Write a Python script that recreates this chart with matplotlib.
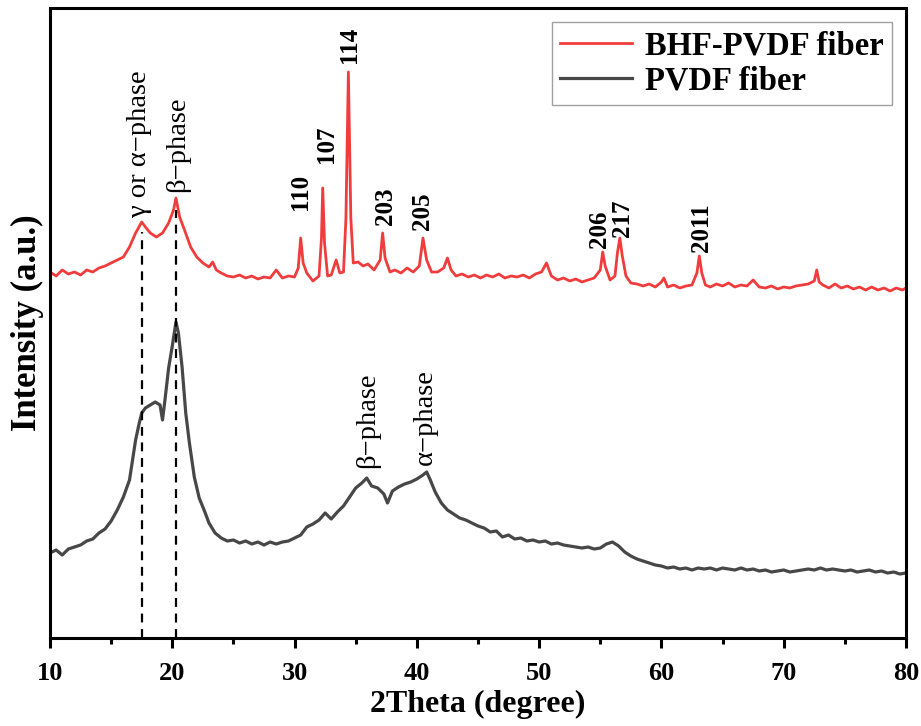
import matplotlib
matplotlib.use('Agg')
import matplotlib.pyplot as plt

plt.rcParams['font.family'] = ['Liberation Serif', 'DejaVu Serif']

# XRD pattern of BHF-PVDF fiber (red), intensity in a.u., offset upward
tt_bhf = [10, 10.5, 11, 11.5, 12, 12.5, 13, 13.5, 14, 14.5, 15, 15.5, 16, 16.5, 17, 17.5,
          17.8, 18.2, 18.7, 19.2, 19.7, 20.1, 20.3, 20.6, 21, 21.5, 22, 22.5, 23, 23.3, 23.6,
          24, 24.5, 25, 25.5, 26, 26.5, 27, 27.5, 28, 28.5, 29, 29.5, 30, 30.3, 30.5, 30.7,
          31, 31.5, 32, 32.2, 32.3, 32.45, 32.7, 33, 33.4, 33.7, 34.0, 34.2, 34.4, 34.6, 34.8,
          35.2, 35.6, 36, 36.5, 37, 37.2, 37.4, 37.8, 38.2, 38.7, 39.2, 39.7, 40.2, 40.5, 40.8,
          41.2, 41.7, 42.2, 42.5, 42.8, 43.2, 43.7, 44.2, 44.7, 45.2, 45.7, 46.2, 46.7, 47.2,
          47.7, 48.2, 48.7, 49.2, 49.7, 50.2, 50.6, 51, 51.5, 52, 52.5, 53, 53.5, 54, 54.5,
          55.0, 55.2, 55.4, 55.8, 56.2, 56.4, 56.6, 56.8, 57.1, 57.5, 58, 58.5, 59, 59.5, 60,
          60.2, 60.5, 61, 61.5, 62, 62.5, 62.9, 63.1, 63.3, 63.6, 64, 64.5, 65, 65.5, 66, 66.5,
          67, 67.5, 68, 68.5, 69, 69.5, 70, 70.5, 71, 71.5, 72, 72.5, 72.7, 72.9, 73.2, 73.7,
          74.2, 74.7, 75.2, 75.7, 76.2, 76.7, 77.2, 77.7, 78.2, 78.7, 79.2, 79.7, 80]
int_bhf = [366, 362, 368, 364, 366, 363, 368, 366, 370, 372, 375, 378, 381, 391, 405, 416,
           411, 405, 401, 405, 415, 428, 440, 421, 408, 391, 381, 375, 371, 376, 368,
           365, 362, 361, 363, 360, 362, 359, 361, 360, 368, 360, 362, 361, 370, 400, 375,
           365, 357, 362, 400, 450, 395, 362, 363, 378, 365, 366, 420, 566, 420, 375,
           376, 372, 374, 368, 378, 405, 380, 366, 368, 365, 370, 366, 372, 400, 378,
           366, 366, 370, 380, 368, 362, 364, 361, 363, 360, 363, 361, 364, 360,
           362, 361, 363, 360, 364, 366, 375, 362, 358, 360, 357, 359, 356, 358, 360,
           368, 386, 372, 358, 362, 385, 400, 382, 362, 355, 354, 352, 354, 351, 356,
           360, 351, 353, 350, 352, 353, 365, 382, 365, 353, 351, 354, 352, 355, 351, 353,
           352, 358, 351, 350, 352, 349, 351, 350, 352, 353, 354, 357, 368, 356, 353, 350,
           354, 350, 352, 349, 351, 348, 351, 348, 350, 347, 350, 348, 350]

# XRD pattern of pure PVDF fiber (dark grey)
tt_pvdf = [10, 10.5, 11, 11.5, 12, 12.5, 13, 13.5, 14, 14.5, 15, 15.5, 16, 16.5, 17, 17.3,
           17.5, 17.8, 18.2, 18.6, 19.0, 19.2, 19.4, 19.7, 20.0, 20.3, 20.5, 20.8, 21.1, 21.4,
           21.8, 22.2, 22.6, 23, 23.5, 24, 24.5, 25, 25.5, 26, 26.5, 27, 27.5, 28, 28.5, 29,
           29.5, 30, 30.5, 31, 31.5, 32, 32.5, 33, 33.5, 34, 34.5, 35, 35.5, 35.9, 36.3, 36.8,
           37.3, 37.6, 38.0, 38.5, 39, 39.5, 40, 40.5, 40.8, 41.1, 41.5, 42, 42.5, 43, 43.5,
           44, 44.5, 45, 45.5, 46, 46.5, 47, 47.5, 48, 48.5, 49, 49.5, 50, 50.5, 51, 51.5, 52,
           52.5, 53, 53.5, 54, 54.5, 55, 55.5, 56, 56.5, 57, 57.5, 58, 58.5, 59, 59.5, 60,
           60.5, 61, 61.5, 62, 62.5, 63, 63.5, 64, 64.5, 65, 65.5, 66, 66.5, 67, 67.5, 68,
           68.5, 69, 69.5, 70, 70.5, 71, 71.5, 72, 72.5, 73, 73.5, 74, 74.5, 75, 75.5, 76,
           76.5, 77, 77.5, 78, 78.5, 79, 79.5, 80]
int_pvdf = [85, 88, 83, 89, 91, 93, 97, 99, 105, 109, 117, 128, 141, 158, 198, 215,
            225, 230, 233, 236, 233, 218, 238, 270, 292, 316, 305, 271, 225, 195,
            161, 140, 128, 115, 105, 100, 97, 98, 95, 97, 94, 96, 93, 96, 94, 96,
            97, 100, 103, 111, 114, 118, 125, 119, 126, 132, 141, 150, 155, 160, 152, 150,
            144, 135, 147, 151, 154, 156, 159, 163, 166, 158, 146, 135, 128, 124, 120,
            118, 115, 112, 110, 106, 107, 101, 103, 99, 100, 97, 98, 96, 97, 94, 95, 93,
            92, 91, 90, 91, 89, 90, 94, 96, 92, 86, 82, 79, 77, 75, 73, 72,
            70, 71, 69, 70, 68, 70, 69, 70, 68, 70, 69, 68, 70, 68, 69, 67,
            68, 66, 67, 68, 66, 67, 68, 69, 68, 70, 68, 69, 68, 67, 68, 66,
            67, 68, 66, 67, 65, 66, 64, 65]

# peak labels
peak_labels = ['γ or α−phase', 'β−phase', '110', '107', '114', '203', '205',
               '206', '217', '2011', 'β−phase', 'α−phase']
peak_x = [17.3, 20.4, 30.5, 32.6, 34.5, 37.4, 40.5, 54.9, 56.8, 63.3, 36.0, 40.7]
peak_y = [421, 446, 428, 475, 575, 413, 408, 390, 401, 386, 170, 173]
peak_bold = [False, False, True, True, True, True, True, True, True, True, False, False]

# dashed guides for PVDF phases
guide_x = [17.5, 20.3]
guide_top = [406, 428]

fig = plt.figure(figsize=(9.21, 7.26), dpi=100)
ax = fig.add_axes([0.0543, 0.1212, 0.9294, 0.8678])

ax.plot(tt_bhf, int_bhf, color='#f03c3c', lw=2.0, label='BHF-PVDF fiber')
ax.plot(tt_pvdf, int_pvdf, color='#474747', lw=2.3, label='PVDF fiber')

for gx, gt in zip(guide_x, guide_top):
    ax.plot([gx, gx], [0, gt], color='black', lw=1.6, ls=(0, (4, 3)))

for txt, px, py, b in zip(peak_labels, peak_x, peak_y, peak_bold):
    ax.text(px, py, txt, rotation=90, ha='center', va='bottom',
            fontsize=18 if b else 20.5, fontweight='bold' if b else 'normal')

ax.set_xlim(10, 80)
ax.set_ylim(0, 630)
ax.set_xticks(range(10, 81, 10))
ax.set_xticks(range(15, 80, 10), minor=True)
ax.set_yticks([])
ax.tick_params(axis='x', which='major', direction='out', length=7, width=2.2,
               labelsize=19, pad=10)
ax.tick_params(axis='x', which='minor', direction='out', length=4, width=2.2)
for lab in ax.get_xticklabels():
    lab.set_fontweight('bold')
for sp in ax.spines.values():
    sp.set_linewidth(2.2)

ax.set_xlabel('2Theta (degree)', fontsize=23, fontweight='bold', labelpad=4)
ax.set_ylabel('Intensity (a.u.)', fontsize=25, fontweight='bold', labelpad=4)

leg = ax.legend(loc='upper right', bbox_to_anchor=(0.9836, 0.978), borderaxespad=0,
                prop={'weight': 'bold', 'size': 23.5}, frameon=True, fancybox=False,
                handlelength=2.2, handletextpad=0.4, borderpad=0.25, labelspacing=0.15)
leg.get_frame().set_edgecolor('#888888')
leg.get_frame().set_linewidth(1.0)

fig.savefig('out.png', dpi=100)
